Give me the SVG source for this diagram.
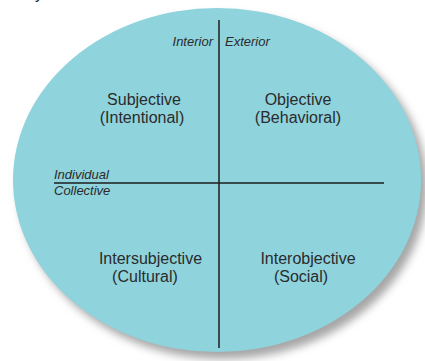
<svg xmlns="http://www.w3.org/2000/svg" width="425" height="361" viewBox="0 0 425 361">
<style>
.lbl{font-family:"Liberation Sans",Arial,sans-serif;font-size:16px;fill:#2b2b2b;text-anchor:middle}
.ax{font-family:"Liberation Sans",Arial,sans-serif;font-size:13px;font-style:italic;fill:#2b2b2b}
.ln{stroke:#1e1e1e;stroke-width:1.5;fill:none}
</style>
<defs>
<filter id="sh" x="-10%" y="-10%" width="120%" height="120%">
<feGaussianBlur stdDeviation="4"/>
</filter>
</defs>
<rect width="425" height="361" fill="#ffffff"/>
<text x="35" y="-1" font-family="Liberation Sans,Arial,sans-serif" font-size="16" fill="#2b2b2b">y</text>
<g id="circle">
<ellipse cx="223" cy="187" rx="204" ry="172" fill="#a6a6a6" filter="url(#sh)"/>
<ellipse cx="217" cy="180" rx="204" ry="172" fill="#8fd3dd"/>
</g>
<g id="connectors">
<line class="ln" x1="219" y1="20" x2="219" y2="348"/>
<line class="ln" x1="54" y1="183" x2="384" y2="183"/>
</g>
<g id="axis-labels">
<text class="ax" x="213" y="46" text-anchor="end">Interior</text>
<text class="ax" x="225" y="46">Exterior</text>
<text class="ax" x="54" y="179">Individual</text>
<text class="ax" x="54" y="195">Collective</text>
</g>
<g id="q-subjective">
<text class="lbl" x="144" y="105">Subjective</text>
<text class="lbl" x="142" y="123">(Intentional)</text>
</g>
<g id="q-objective">
<text class="lbl" x="298" y="105">Objective</text>
<text class="lbl" x="298" y="123">(Behavioral)</text>
</g>
<g id="q-intersubjective">
<text class="lbl" x="150.5" y="264">Intersubjective</text>
<text class="lbl" x="145" y="282">(Cultural)</text>
</g>
<g id="q-interobjective">
<text class="lbl" x="308" y="264">Interobjective</text>
<text class="lbl" x="301" y="282">(Social)</text>
</g>
</svg>
